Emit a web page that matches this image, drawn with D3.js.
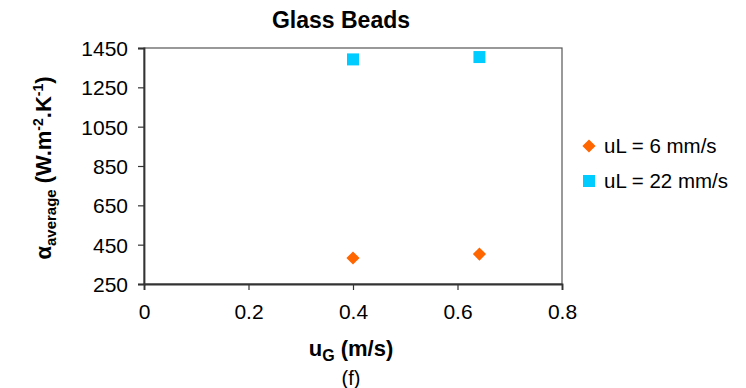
<!DOCTYPE html>
<html>
<head>
<meta charset="utf-8">
<script src="https://cdn.jsdelivr.net/npm/d3@7"></script>
<style>
  html, body { margin: 0; padding: 0; background: #fff; }
  svg { display: block; font-family: "Liberation Sans", Arial, sans-serif; }
</style>
</head>
<body>
<svg id="chart" width="746" height="388"></svg>
<script>
// Measured heat-transfer coefficients, glass beads packing
const gasVelocity = [0.40, 0.642];          // u_G (m/s)
const alphaLow = [382, 402];                // uL = 6 mm/s
const alphaHigh = [1392, 1404];             // uL = 22 mm/s
const seriesNames = ["uL = 6 mm/s", "uL = 22 mm/s"];
const xTicks = [0, 0.2, 0.4, 0.6, 0.8];
const yTicks = [250, 450, 650, 850, 1050, 1250, 1450];

const svg = d3.select("#chart");
const plot = { left: 144, right: 562, top: 48, bottom: 284 };

const x = d3.scaleLinear().domain([0, 0.8]).range([plot.left, plot.right]);
const y = d3.scaleLinear().domain([250, 1450]).range([plot.bottom, plot.top]);

// plot area frame
svg.append("rect")
  .attr("x", plot.left).attr("y", plot.top)
  .attr("width", plot.right - plot.left).attr("height", plot.bottom - plot.top)
  .attr("fill", "none").attr("stroke", "#555").attr("stroke-width", 1.2);

// axes
const yAxis = d3.axisLeft(y).tickValues(yTicks).tickSize(6).tickPadding(10).tickFormat(d3.format("d"));
const xAxis = d3.axisBottom(x).tickValues(xTicks).tickSize(6).tickPadding(14).tickFormat(d => d === 0 ? "0" : d3.format(".1f")(d));

const gy = svg.append("g").attr("transform", `translate(${plot.left},0)`).call(yAxis);
const gx = svg.append("g").attr("transform", `translate(0,${plot.bottom})`).call(xAxis);
[gx, gy].forEach(g => {
  g.select(".domain").attr("stroke", "#333").attr("stroke-width", 1.8);
  g.selectAll(".tick line").attr("stroke", "#333").attr("stroke-width", 1.2);
  g.selectAll(".tick text").attr("fill", "#000").style("font-size", "21px")
    .style("font-family", "'Liberation Sans', Arial, sans-serif");
});
gy.selectAll(".tick text").attr("dy", "0.36em");

// markers
const diamond = d3.symbol().type(d3.symbolDiamond2).size(110);
const orange = "#FF6600", cyan = "#00CCFF";

svg.append("g").selectAll("path").data(gasVelocity).join("path")
  .attr("d", diamond)
  .attr("transform", (d, i) => `translate(${x(d)},${y(alphaLow[i])})`)
  .attr("fill", orange);

svg.append("g").selectAll("rect").data(gasVelocity).join("rect")
  .attr("x", d => x(d) - 6)
  .attr("y", (d, i) => y(alphaHigh[i]) - 6)
  .attr("width", 12).attr("height", 12)
  .attr("fill", cyan);

// title
svg.append("text").attr("x", 341).attr("y", 28).attr("text-anchor", "middle")
  .style("font-size", "23px").style("font-weight", "bold").text("Glass Beads");

// x axis title
const xt = svg.append("text").attr("x", 351).attr("y", 356).attr("text-anchor", "middle")
  .style("font-size", "22px").style("font-weight", "bold");
xt.append("tspan").text("u");
xt.append("tspan").attr("dy", 5).style("font-size", "16px").text("G");
xt.append("tspan").attr("dy", -5).text(" (m/s)");

// figure tag
svg.append("text").attr("x", 351).attr("y", 385).attr("text-anchor", "middle")
  .style("font-size", "20px").text("(f)");

// y axis title
const yt = svg.append("text").attr("transform", "translate(51,168) rotate(-90)")
  .attr("text-anchor", "middle").style("font-size", "22px").style("font-weight", "bold");
yt.append("tspan").text("α");
yt.append("tspan").attr("dy", 5).style("font-size", "15px").text("average");
yt.append("tspan").attr("dy", -5).text(" (W.m");
yt.append("tspan").attr("dy", -8).style("font-size", "14px").text("-2");
yt.append("tspan").attr("dy", 8).text(".K");
yt.append("tspan").attr("dy", -8).style("font-size", "14px").text("-1");
yt.append("tspan").attr("dy", 8).text(")");

// legend
const legend = svg.append("g");
const legendY = [146, 181];
legend.append("path").attr("d", diamond).attr("transform", `translate(589,${legendY[0]})`).attr("fill", orange);
legend.append("rect").attr("x", 583).attr("y", legendY[1] - 6).attr("width", 12).attr("height", 12).attr("fill", cyan);
legend.selectAll("text").data(seriesNames).join("text")
  .attr("x", 604).attr("y", (d, i) => legendY[i]).attr("dy", "0.36em")
  .style("font-size", "20.5px").text(d => d);
</script>
</body>
</html>
